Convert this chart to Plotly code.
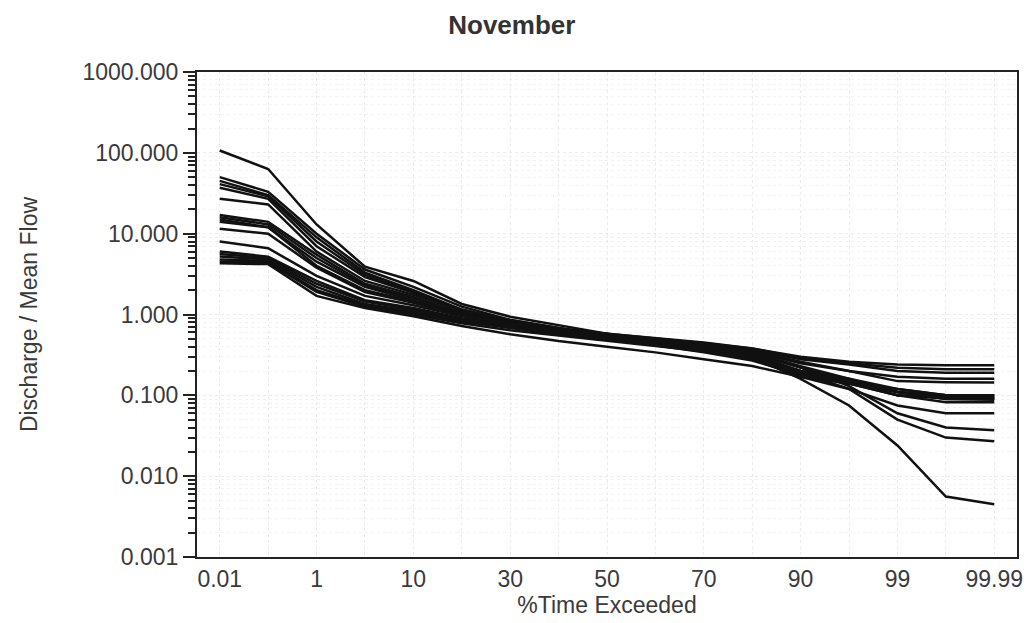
import plotly.graph_objects as go

# Exceedance probabilities (percent of time) at which each duration curve is evaluated
pct_exceeded = ["0.01", "0.1", "1", "5", "10", "20", "30", "40", "50",
                "60", "70", "80", "90", "95", "99", "99.9", "99.99"]

# Labelled positions on the probability axis
tick_labels = ["0.01", "1", "10", "30", "50", "70", "90", "99", "99.99"]

# Discharge / mean flow for each gauging station (November flows)
st01 = [107, 63, 13, 3.9, 2.6, 1.35, 0.94, 0.74, 0.58, 0.47, 0.38, 0.30, 0.20, 0.15, 0.11, 0.090, 0.088]
st02 = [50, 33, 10, 3.6, 2.2, 1.25, 0.86, 0.68, 0.55, 0.45, 0.36, 0.28, 0.17, 0.12, 0.075, 0.060, 0.060]
st03 = [45, 30, 9.0, 3.3, 2.0, 1.15, 0.82, 0.63, 0.51, 0.42, 0.34, 0.27, 0.18, 0.14, 0.11, 0.10, 0.10]
st04 = [41, 29, 8.0, 3.1, 1.9, 1.15, 0.85, 0.68, 0.56, 0.47, 0.40, 0.32, 0.20, 0.14, 0.10, 0.093, 0.092]
st05 = [37, 27, 7.0, 2.9, 1.85, 1.10, 0.80, 0.65, 0.54, 0.46, 0.38, 0.30, 0.16, 0.075, 0.024, 0.0056, 0.0045]
st06 = [27, 23, 6.0, 2.6, 1.75, 1.10, 0.82, 0.66, 0.55, 0.47, 0.40, 0.33, 0.22, 0.15, 0.10, 0.082, 0.082]
st07 = [17, 14, 5.5, 2.4, 1.65, 1.02, 0.76, 0.60, 0.50, 0.42, 0.35, 0.28, 0.19, 0.14, 0.10, 0.092, 0.092]
st08 = [16, 13, 5.0, 2.3, 1.6, 1.05, 0.80, 0.65, 0.55, 0.48, 0.42, 0.35, 0.25, 0.20, 0.15, 0.145, 0.144]
st09 = [15, 12, 4.5, 2.2, 1.5, 1.00, 0.78, 0.64, 0.55, 0.47, 0.40, 0.33, 0.22, 0.13, 0.060, 0.040, 0.037]
st10 = [14, 12, 4.0, 2.0, 1.45, 1.00, 0.80, 0.67, 0.58, 0.50, 0.44, 0.37, 0.28, 0.24, 0.20, 0.19, 0.19]
st11 = [11.5, 10, 3.8, 1.9, 1.4, 0.98, 0.78, 0.65, 0.56, 0.49, 0.43, 0.36, 0.26, 0.20, 0.17, 0.16, 0.16]
st12 = [8.0, 6.6, 3.0, 1.7, 1.3, 0.95, 0.78, 0.66, 0.58, 0.51, 0.45, 0.38, 0.29, 0.25, 0.22, 0.21, 0.21]
st13 = [6.0, 5.2, 2.6, 1.5, 1.2, 0.90, 0.75, 0.64, 0.56, 0.50, 0.44, 0.38, 0.30, 0.26, 0.24, 0.235, 0.235]
st14 = [5.6, 5.0, 2.4, 1.45, 1.15, 0.88, 0.72, 0.62, 0.54, 0.47, 0.41, 0.34, 0.23, 0.16, 0.11, 0.095, 0.095]
st15 = [5.2, 4.8, 2.2, 1.35, 1.10, 0.85, 0.70, 0.60, 0.52, 0.45, 0.38, 0.30, 0.19, 0.12, 0.050, 0.030, 0.027]
st16 = [4.8, 4.6, 2.0, 1.30, 1.05, 0.82, 0.68, 0.57, 0.49, 0.42, 0.36, 0.29, 0.20, 0.16, 0.12, 0.10, 0.10]
st17 = [4.5, 4.4, 1.9, 1.25, 1.00, 0.78, 0.64, 0.55, 0.47, 0.41, 0.35, 0.28, 0.19, 0.15, 0.11, 0.090, 0.090]
st18 = [4.3, 4.2, 1.7, 1.20, 0.95, 0.72, 0.57, 0.47, 0.40, 0.34, 0.28, 0.23, 0.17, 0.14, 0.12, 0.10, 0.10]

stations = [st01, st02, st03, st04, st05, st06, st07, st08, st09,
            st10, st11, st12, st13, st14, st15, st16, st17, st18]

FONT = "Liberation Sans, Arial, Helvetica, sans-serif"
TEXT = "#3a3a3a"

fig = go.Figure()
for i, series in enumerate(stations, start=1):
    fig.add_trace(go.Scatter(
        x=pct_exceeded, y=series, mode="lines",
        name=f"Station {i}",
        line=dict(color="#111111", width=2.5),
        showlegend=False,
    ))

grid_color = "#ebebeb"

fig.update_layout(
    width=1034, height=623,
    margin=dict(l=197, r=11, t=72, b=63),
    paper_bgcolor="white", plot_bgcolor="white",
    font=dict(family=FONT, color=TEXT, size=22),
    title=dict(
        text="<b>November</b>", x=0.495, xanchor="center",
        y=1 - 25 / 623, yanchor="middle",
        font=dict(family=FONT, size=26, color="#333333"),
    ),
)

fig.update_xaxes(
    type="category",
    categoryorder="array", categoryarray=pct_exceeded,
    tickvals=pct_exceeded,
    ticktext=[p if p in tick_labels else "" for p in pct_exceeded],
    range=[-0.47, len(pct_exceeded) - 0.53],
    showline=True, linecolor="#222222", linewidth=2, mirror=True,
    ticks="", tickfont=dict(size=23, color=TEXT),
    showgrid=True, gridcolor=grid_color, griddash="dot", gridwidth=1,
    zeroline=False,
    title=dict(text="%Time Exceeded", font=dict(size=23, color=TEXT), standoff=4),
)

fig.update_yaxes(
    type="log", range=[-3, 3], dtick=1, tickformat=".3f",
    showline=True, linecolor="#222222", linewidth=2, mirror=True,
    ticks="outside", ticklen=12, tickwidth=2, tickcolor="#222222",
    tickfont=dict(size=23, color=TEXT),
    showgrid=True, gridcolor=grid_color, griddash="dot", gridwidth=1,
    minor=dict(dtick="D1", ticks="outside", ticklen=7, tickwidth=1.5,
               tickcolor="#222222", showgrid=True, gridcolor="#f2f2f2",
               griddash="dot"),
    zeroline=False,
    title=dict(text="Discharge / Mean Flow", font=dict(size=23, color=TEXT), standoff=38),
)

fig.write_html("out.html")
